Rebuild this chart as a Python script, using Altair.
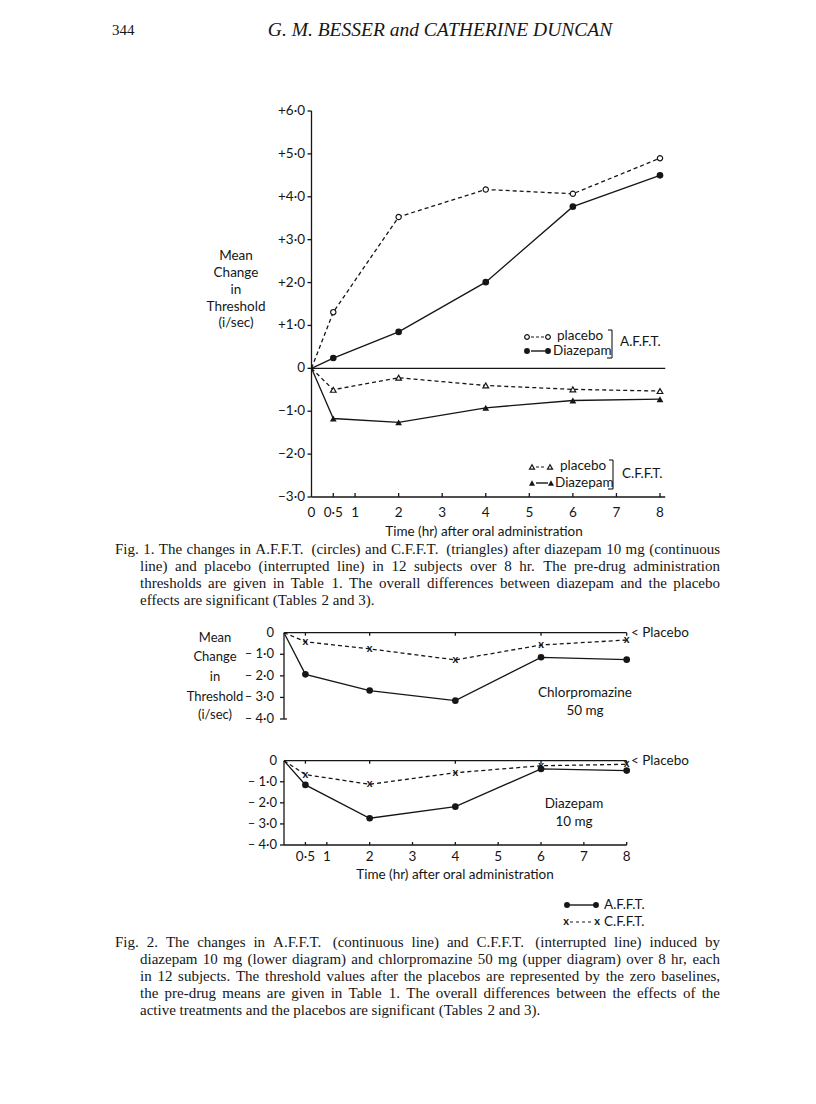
import altair as alt
import pandas as pd

# ------------------------------------------------------------------ data
times = [0, 0.5, 2, 4, 6, 8]

# Fig. 1
fig1_afft_placebo = [0, 1.31, 3.53, 4.17, 4.07, 4.90]
fig1_afft_diazepam = [0, 0.24, 0.85, 2.01, 3.77, 4.50]
fig1_cfft_placebo = [0, -0.50, -0.22, -0.40, -0.49, -0.53]
fig1_cfft_diazepam = [0, -1.17, -1.26, -0.92, -0.75, -0.72]

# Fig. 2
fig2_chlor_afft = [0, -1.93, -2.68, -3.15, -1.14, -1.25]
fig2_chlor_cfft = [0, -0.42, -0.75, -1.26, -0.57, -0.34]
fig2_diaz_afft = [0, -1.15, -2.73, -2.18, -0.39, -0.47]
fig2_diaz_cfft = [0, -0.66, -1.12, -0.57, -0.24, -0.17]

fig1_y_ticks = [6, 5, 4, 3, 2, 1, 0, -1, -2, -3]
fig1_y_labels = ["+6·0", "+5·0", "+4·0", "+3·0", "+2·0", "+1·0", "0", "−1·0", "−2·0", "−3·0"]
fig1_x_ticks = [0, 0.5, 1, 2, 3, 4, 5, 6, 7, 8]
fig1_x_labels = ["0", "0·5", "1", "2", "3", "4", "5", "6", "7", "8"]

fig2_y_ticks = [0, -1, -2, -3, -4]
fig2_y_labels = ["0", "– 1·0", "– 2·0", "– 3·0", "– 4·0"]
fig2_x_ticks = [0.5, 1, 2, 3, 4, 5, 6, 7, 8]
fig2_x_labels = ["0·5", "1", "2", "3", "4", "5", "6", "7", "8"]

y_title_lines = ["Mean", "Change", "in", "Threshold", "(i/sec)"]
x_title = "Time (hr) after oral administration"

caption1 = [
    "Fig. 1.  The changes in A.F.F.T. (circles) and C.F.F.T. (triangles) after diazepam 10 mg (continuous",
    "line) and placebo (interrupted line) in 12 subjects over 8 hr.  The pre-drug administration",
    "thresholds are given in Table 1.  The overall differences between diazepam and the placebo",
    "effects are significant (Tables 2 and 3).",
]
caption2 = [
    "Fig. 2.  The changes in A.F.F.T. (continuous line) and C.F.F.T. (interrupted line) induced by",
    "diazepam 10 mg (lower diagram) and chlorpromazine 50 mg (upper diagram) over 8 hr, each",
    "in 12 subjects.  The threshold values after the placebos are represented by the zero baselines,",
    "the pre-drug means are given in Table 1.  The overall differences between the effects of the",
    "active treatments and the placebos are significant (Tables 2 and 3).",
]

# ------------------------------------------------------------------ style
FIG_FONT = "Lato"
TXT_FONT = "Liberation Serif"
INK = "#161616"
M = 8  # page margin

# approximate Times / Liberation Serif advance widths (per 1000 em) for justification
_W = dict(zip("abcdefghijklmnopqrstuvwxyz",
              [444, 500, 444, 500, 444, 333, 500, 500, 278, 278, 500, 278, 778, 500, 500, 500, 500,
               333, 389, 278, 500, 500, 722, 500, 500, 444]))
_W.update(zip("ABCDEFGHIJKLMNOPQRSTUVWXYZ",
              [722, 667, 667, 722, 611, 556, 722, 722, 333, 389, 722, 611, 889, 722, 722, 556, 722,
               667, 556, 611, 722, 722, 944, 722, 722, 611]))
_W.update({c: 500 for c in "0123456789"})
_W.update({".": 250, ",": 250, "(": 333, ")": 333, "-": 333, " ": 250})


def word_w(w, size):
    return sum(_W.get(c, 500) for c in w) * size / 1000.0


def justified_rows(lines, x_first, x_rest, right, y0, dy, size):
    rows = []
    for i, line in enumerate(lines):
        x_left = x_first if i == 0 else x_rest
        words = line.split()
        y = y0 + dy * i
        widths = [word_w(w, size) for w in words]
        last = i == len(lines) - 1
        if last or len(words) < 2:
            gap = 0.25 * size
        else:
            gap = (right - x_left - sum(widths)) / (len(words) - 1)
        x = x_left
        for w, wd in zip(words, widths):
            rows.append((w, x, y))
            x += wd + gap
    return rows


def text_layer(rows, size=13, font=FIG_FONT, align="center", style="normal", baseline="middle"):
    df = pd.DataFrame([{"t": t, "px": x - M, "py": y - M} for t, x, y in rows])
    return alt.Chart(df).mark_text(
        font=font, fontSize=size, align=align, baseline=baseline, fontStyle=style, color=INK
    ).encode(
        x=alt.X("px:Q", scale=None, axis=None),
        y=alt.Y("py:Q", scale=None, axis=None),
        text="t:N",
    )


def pix_rules(segs, width=1.2, dash=None):
    df = pd.DataFrame([{"a": a - M, "b": b - M, "c": c - M, "d": d - M} for a, b, c, d in segs])
    kw = dict(color=INK, strokeWidth=width)
    if dash:
        kw["strokeDash"] = dash
    return alt.Chart(df).mark_rule(**kw).encode(
        x=alt.X("a:Q", scale=None, axis=None), x2="b:Q",
        y=alt.Y("c:Q", scale=None, axis=None), y2="d:Q",
    )


def marker_chart(df, kind, small=False):
    f = 0.8 if small else 1.0
    if kind == "open_circle":
        m = alt.Chart(df).mark_point(shape="circle", filled=True, fill="white", stroke=INK,
                                     strokeWidth=1.2, opacity=1, size=28 * f)
    elif kind == "dot":
        m = alt.Chart(df).mark_point(shape="circle", filled=True, color=INK, opacity=1, size=44 * f)
    elif kind == "open_tri":
        m = alt.Chart(df).mark_point(shape="triangle-up", filled=True, fill="white", stroke=INK,
                                     strokeWidth=1.2, opacity=1, size=32 * f)
    elif kind == "tri":
        m = alt.Chart(df).mark_point(shape="triangle-up", filled=True, color=INK, opacity=1, size=46 * f)
    else:  # letter x
        m = alt.Chart(df).mark_text(text="x", font=FIG_FONT, fontSize=11, baseline="middle",
                                    fontWeight="bold", color=INK)
    return m


def pix_points(pts, kind):
    df = pd.DataFrame([{"px": x - M, "py": y - M} for x, y in pts])
    enc = dict(x=alt.X("px:Q", scale=None, axis=None), y=alt.Y("py:Q", scale=None, axis=None))
    return marker_chart(df, kind, small=True).encode(**enc)


def seg_layer(segs, xs, ys, width=1.3):
    df = pd.DataFrame(segs, columns=["x0", "x1", "y0", "y1"])
    return alt.Chart(df).mark_rule(color=INK, strokeWidth=width).encode(
        x=alt.X("x0:Q", scale=xs, axis=None), x2="x1:Q",
        y=alt.Y("y0:Q", scale=ys, axis=None), y2="y1:Q",
    )


def series(vals, xs, ys, dashed, kind):
    df = pd.DataFrame({"t": times, "v": vals})
    kw = dict(color=INK, strokeWidth=1.3)
    if dashed:
        kw["strokeDash"] = [4, 3]
    enc = dict(x=alt.X("t:Q", scale=xs, axis=None), y=alt.Y("v:Q", scale=ys, axis=None))
    line = alt.Chart(df).mark_line(**kw).encode(**enc)
    pts = marker_chart(df[df["t"] > 0], kind).encode(**enc)
    return alt.layer(line, pts)


def scales(x0, x8, ylo, yhi, ylo_px, yhi_px):
    xs = alt.Scale(domain=[0, 8], range=[x0 - M, x8 - M], nice=False, zero=False)
    ys = alt.Scale(domain=[ylo, yhi], range=[ylo_px - M, yhi_px - M], nice=False, zero=False)
    return xs, ys


layers = []

# ------------------------------------------------------------------ header
layers.append(text_layer([("344", 112, 30)], size=15, font=TXT_FONT, align="left"))
layers.append(text_layer([("G. M. BESSER and CATHERINE DUNCAN", 440, 30)], size=19.5,
                         font=TXT_FONT, style="italic"))

# ------------------------------------------------------------------ Fig. 1
X0, X8, YB, YT = 311.5, 660.0, 497.0, 111.0
xs1, ys1 = scales(X0, X8, -3, 6, YB, YT)
ux = (X8 - X0) / 8
uy = (YB - YT) / 9
segs1 = [(0, 0, -3, 6), (0, 8.12, -3, -3), (0, 8.12, 0, 0)]
segs1 += [(-4 / ux, 0, v, v) for v in fig1_y_ticks]
segs1 += [(t, t, -3, -3 + 4 / uy) for t in fig1_x_ticks[1:]]
layers.append(alt.layer(
    seg_layer(segs1, xs1, ys1),
    series(fig1_afft_placebo, xs1, ys1, True, "open_circle"),
    series(fig1_afft_diazepam, xs1, ys1, False, "dot"),
    series(fig1_cfft_placebo, xs1, ys1, True, "open_tri"),
    series(fig1_cfft_diazepam, xs1, ys1, False, "tri"),
))
layers.append(text_layer([(lab, 305, YB - (v + 3) * uy) for v, lab in zip(fig1_y_ticks, fig1_y_labels)],
                         align="right", size=13.5))
layers.append(text_layer([(lab, X0 + t * ux, 513) for t, lab in zip(fig1_x_ticks, fig1_x_labels)],
                         size=13.5))
layers.append(text_layer([(s, 236, y) for s, y in zip(y_title_lines, [256, 273, 290, 307, 323])],
                         size=13.5))
layers.append(text_layer([(x_title, 484, 532)], size=13.5))

# legends of Fig. 1
layers.append(pix_rules([(531, 544, 337, 337)], width=1.1, dash=[3, 2]))
layers.append(pix_rules([(531, 545, 351, 351)], width=1.4))
layers.append(pix_points([(527, 337), (548, 337)], "open_circle"))
layers.append(pix_points([(527, 351), (548, 351)], "dot"))
layers.append(pix_rules([(612, 612, 330, 358), (608, 612, 330, 330), (607, 612, 358, 358)], width=1.1))
layers.append(text_layer([("placebo", 557, 336), ("Diazepam", 553, 351), ("A.F.F.T.", 620, 342)],
                         align="left", size=13.5))

layers.append(pix_rules([(536, 546, 467, 467)], width=1.1, dash=[3, 2]))
layers.append(pix_rules([(536, 548, 483, 483)], width=1.4))
layers.append(pix_points([(532, 467), (550, 467)], "open_tri"))
layers.append(pix_points([(532, 483), (551, 483)], "tri"))
layers.append(pix_rules([(613, 613, 460, 489), (609, 613, 460, 460), (608, 613, 489, 489)], width=1.1))
layers.append(text_layer([("placebo", 560, 466), ("Diazepam", 555, 483), ("C.F.F.T.", 622, 474)],
                         align="left", size=13.5))

# caption Fig. 1
CAP = 15
layers.append(text_layer(justified_rows(caption1, 115, 140, 720, 549, 17, CAP),
                         size=CAP, font=TXT_FONT, align="left"))

# ------------------------------------------------------------------ Fig. 2
AX, A8 = 284.0, 626.7
ux2 = (A8 - AX) / 8


def fig2_panel(vals_afft, vals_cfft, yb, yt, with_x_axis):
    xs, ys = scales(AX, A8, -4, 0, yb, yt)
    uy2 = (yb - yt) / 4
    segs = [(0, 0, -4, 0), (0, 8, 0, 0)]
    segs += [(-4 / ux2, 0, v, v) for v in fig2_y_ticks[1:]]
    segs += [(t, t, 0, -3 / uy2) for t in times[1:]]
    if with_x_axis:
        segs += [(0, 8, -4, -4)]
        segs += [(t, t, -4, -4 + 3 / uy2) for t in fig2_x_ticks]
    else:
        segs += [(0, 3 / ux2, -4, -4)]
    return alt.layer(
        seg_layer(segs, xs, ys),
        series(vals_cfft, xs, ys, True, "x"),
        series(vals_afft, xs, ys, False, "dot"),
    ), uy2


top, uyt = fig2_panel(fig2_chlor_afft, fig2_chlor_cfft, 719.0, 632.7, False)
bot, uyb = fig2_panel(fig2_diaz_afft, fig2_diaz_cfft, 845.0, 760.7, True)
layers += [top, bot]

layers.append(text_layer([(lab, 274, 632.7 - v * uyt) for v, lab in zip(fig2_y_ticks, fig2_y_labels)],
                         align="right", size=13))
layers.append(text_layer([(lab, 277, 760.7 - v * uyb) for v, lab in zip(fig2_y_ticks, fig2_y_labels)],
                         align="right", size=13))
layers.append(text_layer([(lab, AX + t * ux2, 857) for t, lab in zip(fig2_x_ticks, fig2_x_labels)],
                         size=13.5))
layers.append(text_layer([(s, 215, y) for s, y in zip(y_title_lines, [638, 657, 677, 697, 715])],
                         size=13))
layers.append(text_layer([(x_title, 455, 875)], size=13.5))
layers.append(text_layer([("< Placebo", 631, 633), ("< Placebo", 631, 761)], align="left", size=13.5))
layers.append(text_layer([("Chlorpromazine", 585, 693), ("50 mg", 585, 711),
                          ("Diazepam", 574, 804), ("10 mg", 574, 822)], size=13.5))

# legend of Fig. 2
layers.append(pix_rules([(567, 596, 905, 905)], width=1.4))
layers.append(pix_rules([(570, 594, 922, 922)], width=1.1, dash=[3, 3]))
layers.append(pix_points([(567, 905), (596, 905)], "dot"))
layers.append(pix_points([(566, 922), (597, 922)], "x"))
layers.append(text_layer([("A.F.F.T.", 604, 905), ("C.F.F.T.", 604, 922)], align="left", size=13.5))

# caption Fig. 2
layers.append(text_layer(justified_rows(caption2, 115, 140, 720, 942, 17, CAP),
                         size=CAP, font=TXT_FONT, align="left"))

chart = alt.layer(*layers).resolve_scale(x="independent", y="independent").properties(
    width=800, height=1088, autosize=alt.AutoSizeParams(type="none"), padding=0
).configure_view(stroke=None)

chart.save("out.html", embed_options={"renderer": "svg", "actions": False})
